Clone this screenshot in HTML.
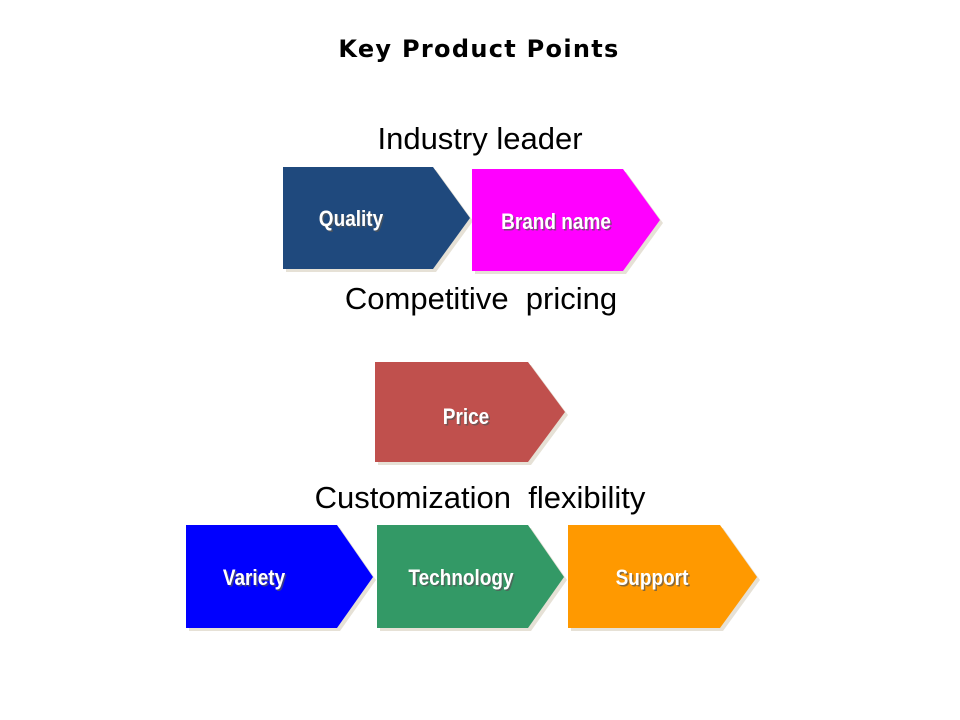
<!DOCTYPE html>
<html>
<head>
<meta charset="utf-8">
<style>
  html, body { margin: 0; padding: 0; background: #ffffff; }
  body { width: 960px; height: 720px; overflow: hidden; }
  svg { display: block; }
  .h { font-family: "Liberation Sans", Arial, sans-serif; font-size: 31px; fill: #000; }
  .t { font-family: "DejaVu Sans", "Liberation Sans", sans-serif; font-weight: bold; font-size: 24px; letter-spacing: 1.3px; fill: #000; }
  .lbl { font-family: "Liberation Sans", Arial, sans-serif; font-weight: bold; font-size: 19px; fill: #ffffff; }
  .sh { font-family: "Liberation Sans", Arial, sans-serif; font-weight: bold; font-size: 19px; fill: #555555; opacity: 0.7; }
</style>
</head>
<body>
<svg width="960" height="720" viewBox="0 0 960 720" xmlns="http://www.w3.org/2000/svg">
  <rect x="0" y="0" width="960" height="720" fill="#ffffff"/>

  <!-- Title -->
  <text class="t" x="479" y="57" text-anchor="middle">Key Product Points</text>

  <!-- Section headings -->
  <text class="h" x="480" y="149" text-anchor="middle">Industry leader</text>
  <text class="h" x="481" y="309" text-anchor="middle" xml:space="preserve">Competitive  pricing</text>
  <text class="h" x="480" y="508" text-anchor="middle" xml:space="preserve">Customization  flexibility</text>

  <!-- Shape shadows -->
  <g fill="#e6e1d6">
    <polygon points="286,170 436,170 473,221 436,272 286,272"/>
    <polygon points="475,172 626,172 663,223 626,274 475,274"/>
    <polygon points="378,365 531,365 568,415 531,465 378,465"/>
    <polygon points="189,528 340,528 376,580 340,631 189,631"/>
    <polygon points="380,528 531,528 567,580 531,631 380,631"/>
    <polygon points="571,528 723,528 760,580 723,631 571,631"/>
  </g>

  <!-- Shapes -->
  <polygon points="283,167 433,167 470,218 433,269 283,269" fill="#1f497d"/>
  <polygon points="472,169 623,169 660,220 623,271 472,271" fill="#ff00ff"/>
  <polygon points="375,362 528,362 565,412 528,462 375,462" fill="#c0504d"/>
  <polygon points="186,525 337,525 373,577 337,628 186,628" fill="#0000ff"/>
  <polygon points="377,525 528,525 564,577 528,628 377,628" fill="#339966"/>
  <polygon points="568,525 720,525 757,577 720,628 568,628" fill="#ff9900"/>

  <!-- Labels: shadow then text -->
  <g transform="translate(351,226) scale(1,1.15)">
    <text class="sh" x="1.5" y="1.5" text-anchor="middle">Quality</text>
    <text class="lbl" x="0" y="0" text-anchor="middle">Quality</text>
  </g>
  <g transform="translate(556,229) scale(1,1.15)">
    <text class="sh" x="1.5" y="1.5" text-anchor="middle">Brand name</text>
    <text class="lbl" x="0" y="0" text-anchor="middle">Brand name</text>
  </g>
  <g transform="translate(466,424) scale(1,1.15)">
    <text class="sh" x="1.5" y="1.5" text-anchor="middle">Price</text>
    <text class="lbl" x="0" y="0" text-anchor="middle">Price</text>
  </g>
  <g transform="translate(254,585) scale(1,1.15)">
    <text class="sh" x="1.5" y="1.5" text-anchor="middle">Variety</text>
    <text class="lbl" x="0" y="0" text-anchor="middle">Variety</text>
  </g>
  <g transform="translate(461,585) scale(1,1.15)">
    <text class="sh" x="1.5" y="1.5" text-anchor="middle">Technology</text>
    <text class="lbl" x="0" y="0" text-anchor="middle">Technology</text>
  </g>
  <g transform="translate(652,585) scale(1,1.15)">
    <text class="sh" x="1.5" y="1.5" text-anchor="middle">Support</text>
    <text class="lbl" x="0" y="0" text-anchor="middle">Support</text>
  </g>
</svg>
</body>
</html>
